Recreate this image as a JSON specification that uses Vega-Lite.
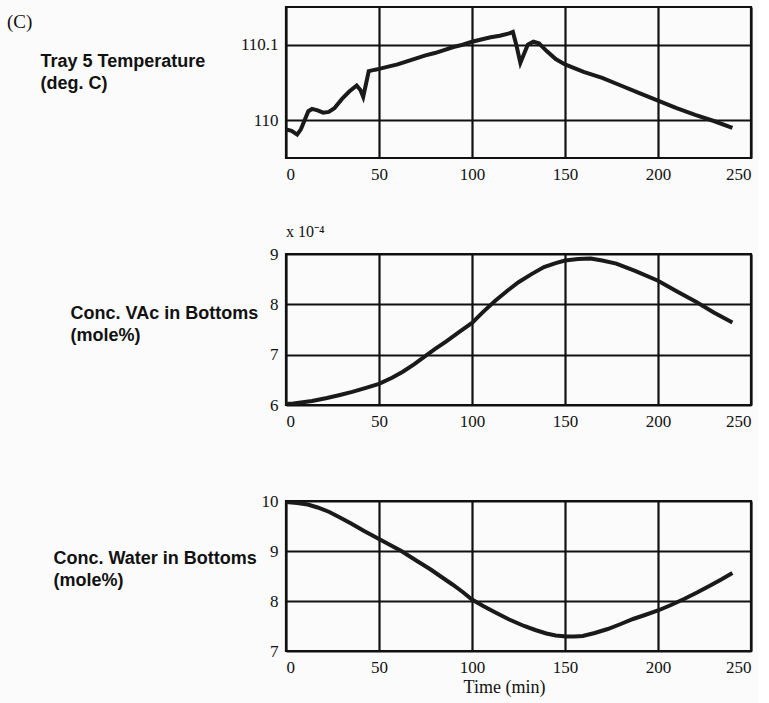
{
  "$schema": "https://vega.github.io/schema/vega-lite/v6.json",
  "background": "#fbfbfb",
  "padding": {"left": 6, "top": 5, "right": 5, "bottom": 5},
  "title": {"text": "(C)", "anchor": "start", "frame": "bounds", "font": "Liberation Serif", "fontSize": 19, "fontWeight": "normal", "color": "#111", "dx": -32, "dy": 26, "offset": 0},
  "spacing": 96,
  "bounds": "flush",
  "config": {
    "view": {"stroke": "#111", "strokeWidth": 2.2},
    "axis": {"grid": true, "gridColor": "#111", "gridWidth": 2.2, "gridOpacity": 1, "domain": false, "ticks": false,
      "labelFont": "Liberation Serif", "labelFontSize": 17, "labelColor": "#111", "labelPadding": 8,
      "titleColor": "#111", "titleFont": "Liberation Sans", "titleFontWeight": "bold", "titleFontSize": 18, "titleLineHeight": 22},
    "axisY": {"titleAngle": 0, "titleAlign": "left", "titleBaseline": "top"}
  },
  "vconcat": [
    {
      "width": 465, "height": 151,
      "data": {"values": [
        {"t": 0, "T": 109.988}, {"t": 3, "T": 109.986}, {"t": 6, "T": 109.981}, {"t": 8, "T": 109.988},
        {"t": 10, "T": 110.0}, {"t": 12, "T": 110.012}, {"t": 14, "T": 110.015}, {"t": 17, "T": 110.013},
        {"t": 20, "T": 110.01}, {"t": 23, "T": 110.011}, {"t": 26, "T": 110.016}, {"t": 30, "T": 110.028},
        {"t": 34, "T": 110.038}, {"t": 38, "T": 110.046}, {"t": 40, "T": 110.04}, {"t": 41.5, "T": 110.031},
        {"t": 43, "T": 110.048}, {"t": 44.5, "T": 110.065}, {"t": 48, "T": 110.067}, {"t": 50, "T": 110.068},
        {"t": 55, "T": 110.071}, {"t": 60, "T": 110.074}, {"t": 65, "T": 110.078}, {"t": 70, "T": 110.082},
        {"t": 75, "T": 110.086}, {"t": 80, "T": 110.089}, {"t": 85, "T": 110.093}, {"t": 90, "T": 110.097},
        {"t": 95, "T": 110.1}, {"t": 100, "T": 110.104}, {"t": 105, "T": 110.107}, {"t": 110, "T": 110.11},
        {"t": 115, "T": 110.112}, {"t": 120, "T": 110.115}, {"t": 122, "T": 110.117}, {"t": 124, "T": 110.098},
        {"t": 126, "T": 110.076}, {"t": 128, "T": 110.088}, {"t": 130, "T": 110.1}, {"t": 133, "T": 110.104},
        {"t": 136, "T": 110.102}, {"t": 140, "T": 110.092}, {"t": 145, "T": 110.081}, {"t": 150, "T": 110.074},
        {"t": 155, "T": 110.069}, {"t": 160, "T": 110.064}, {"t": 170, "T": 110.056}, {"t": 180, "T": 110.046},
        {"t": 190, "T": 110.036}, {"t": 200, "T": 110.026}, {"t": 210, "T": 110.016}, {"t": 220, "T": 110.007},
        {"t": 230, "T": 109.999}, {"t": 240, "T": 109.99}
      ]},
      "mark": {"type": "line", "color": "#1a1a1a", "strokeWidth": 4, "clip": true},
      "encoding": {
        "x": {"field": "t", "type": "quantitative", "scale": {"domain": [0, 250]}, "axis": {"values": [0, 50, 100, 150, 200, 250], "title": null}},
        "y": {"field": "T", "type": "quantitative", "scale": {"domain": [109.95, 110.15], "zero": false}, "axis": {"values": [110, 110.1], "format": ".4~g", "title": ["Tray 5 Temperature", "(deg. C)"], "titleX": -246, "titleY": 45}}
      }
    },
    {
      "width": 465, "height": 151,
      "title": {"text": "x 10⁻⁴", "anchor": "start", "frame": "group", "font": "Liberation Serif", "fontSize": 16, "fontWeight": "normal", "color": "#111", "offset": 5},
      "data": {"values": [
        {"t": 0, "VAc": 0.000602}, {"t": 4, "VAc": 0.000603}, {"t": 8, "VAc": 0.000605}, {"t": 14, "VAc": 0.000608},
        {"t": 22, "VAc": 0.000614}, {"t": 29, "VAc": 0.00062}, {"t": 35.6, "VAc": 0.000626}, {"t": 43, "VAc": 0.000634},
        {"t": 50, "VAc": 0.000642}, {"t": 57, "VAc": 0.000654}, {"t": 62.8, "VAc": 0.000666}, {"t": 69, "VAc": 0.000681},
        {"t": 74.5, "VAc": 0.000696}, {"t": 80, "VAc": 0.000711}, {"t": 86, "VAc": 0.000726}, {"t": 93, "VAc": 0.000745},
        {"t": 100, "VAc": 0.000763}, {"t": 106, "VAc": 0.000785}, {"t": 112.5, "VAc": 0.000807}, {"t": 119, "VAc": 0.000827},
        {"t": 125, "VAc": 0.000844}, {"t": 132, "VAc": 0.00086}, {"t": 138.7, "VAc": 0.000874}, {"t": 145, "VAc": 0.000882},
        {"t": 150, "VAc": 0.000887}, {"t": 157, "VAc": 0.00089}, {"t": 163.8, "VAc": 0.000891}, {"t": 170, "VAc": 0.000887},
        {"t": 177.6, "VAc": 0.000881}, {"t": 188, "VAc": 0.000866}, {"t": 200, "VAc": 0.000847}, {"t": 210, "VAc": 0.000826},
        {"t": 220.4, "VAc": 0.000805}, {"t": 230, "VAc": 0.000784}, {"t": 240, "VAc": 0.000764}
      ]},
      "mark": {"type": "line", "color": "#1a1a1a", "strokeWidth": 4, "clip": true},
      "encoding": {
        "x": {"field": "t", "type": "quantitative", "scale": {"domain": [0, 250]}, "axis": {"values": [0, 50, 100, 150, 200, 250], "title": null}},
        "y": {"field": "VAc", "type": "quantitative", "scale": {"domain": [0.0006, 0.0009], "zero": false}, "axis": {"values": [0.0006, 0.0007, 0.0008, 0.0009], "labelExpr": "format(datum.value * 10000, '.0f')", "title": ["Conc. VAc in Bottoms", "(mole%)"], "titleX": -216, "titleY": 50}}
      }
    },
    {
      "width": 465, "height": 150,
      "data": {"values": [
        {"t": 0, "W": 9.98}, {"t": 6, "W": 9.96}, {"t": 11.7, "W": 9.93}, {"t": 17, "W": 9.87},
        {"t": 23.3, "W": 9.78}, {"t": 29, "W": 9.67}, {"t": 35, "W": 9.55}, {"t": 42, "W": 9.4},
        {"t": 50, "W": 9.24}, {"t": 56, "W": 9.12}, {"t": 62, "W": 9.0}, {"t": 70, "W": 8.81},
        {"t": 77.8, "W": 8.63}, {"t": 84, "W": 8.47}, {"t": 89.5, "W": 8.33}, {"t": 95, "W": 8.18},
        {"t": 100, "W": 8.03}, {"t": 106, "W": 7.9}, {"t": 112.6, "W": 7.77}, {"t": 120, "W": 7.63},
        {"t": 128, "W": 7.5}, {"t": 134, "W": 7.42}, {"t": 140, "W": 7.35}, {"t": 145, "W": 7.31},
        {"t": 150.8, "W": 7.29}, {"t": 155, "W": 7.29}, {"t": 159.5, "W": 7.3}, {"t": 166, "W": 7.36},
        {"t": 173, "W": 7.44}, {"t": 180, "W": 7.54}, {"t": 186.6, "W": 7.64}, {"t": 193, "W": 7.72},
        {"t": 200, "W": 7.81}, {"t": 207, "W": 7.92}, {"t": 214, "W": 8.04}, {"t": 221, "W": 8.17},
        {"t": 227.6, "W": 8.3}, {"t": 234, "W": 8.43}, {"t": 240, "W": 8.56}
      ]},
      "mark": {"type": "line", "color": "#1a1a1a", "strokeWidth": 4, "clip": true},
      "encoding": {
        "x": {"field": "t", "type": "quantitative", "scale": {"domain": [0, 250]}, "axis": {"values": [0, 50, 100, 150, 200, 250], "title": "Time (min)", "titleFont": "Liberation Serif", "titleFontWeight": "normal", "titleFontSize": 18, "titleX": 218, "titlePadding": 3}},
        "y": {"field": "W", "type": "quantitative", "scale": {"domain": [7, 10], "zero": false}, "axis": {"values": [7, 8, 9, 10], "title": ["Conc. Water in Bottoms", "(mole%)"], "titleX": -233, "titleY": 48}}
      }
    }
  ]
}
